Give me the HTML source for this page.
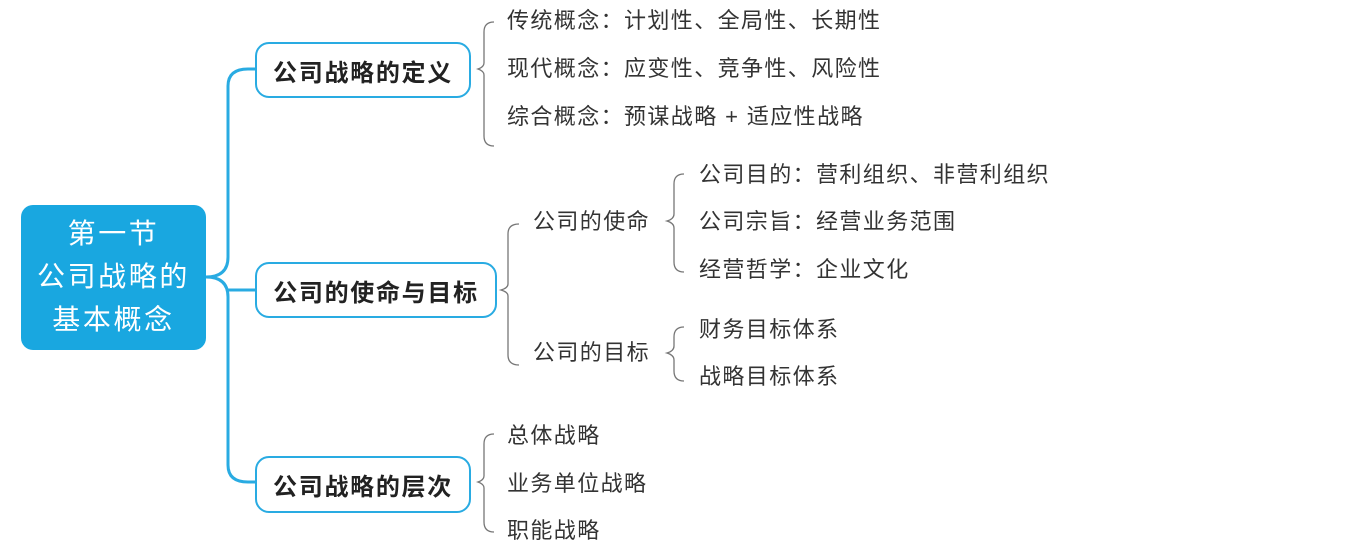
<!DOCTYPE html>
<html><head><meta charset="utf-8"><style>
body{margin:0;width:1359px;height:556px;background:#fff;position:relative;overflow:hidden;font-family:"Liberation Sans","Noto Sans CJK SC",sans-serif;}
.t{position:absolute;font-size:22px;color:#333;white-space:nowrap;line-height:24px;letter-spacing:1.4px;}
.b{position:absolute;border:2px solid #29abe2;border-radius:14px;background:#fff;font-weight:bold;font-size:24px;letter-spacing:1.7px;color:#222;display:flex;align-items:center;justify-content:center;box-sizing:border-box;}
.root{position:absolute;left:21px;top:205px;width:185px;height:145px;background:#19a7e0;border-radius:12px;color:#fff;font-size:28px;letter-spacing:2.6px;text-align:center;line-height:43px;box-sizing:border-box;padding-top:7px;}
</style></head><body>
<svg width="1359" height="556" style="position:absolute;left:0;top:0">
<g fill="none" stroke="#29abe2" stroke-width="3">
<path d="M206 277 Q228 277 228 257 L228 86 Q228 69 248 69 L256 69"/>
<path d="M206 277 Q228 277 228 297 L228 465 Q228 482 248 482 L256 482"/>
<path d="M228 290 L256 290"/>
</g>
<g fill="none" stroke="#777" stroke-width="1.3">
<path d="M494 22 Q484 22 484 32 L484 63 Q484 67 478 69 Q484 71 484 75 L484 136 Q484 146 494 146"/>
<path d="M519 224 Q508 224 508 234 L508 284 Q508 288 501 290 Q508 292 508 296 L508 355 Q508 365 519 365"/>
<path d="M684 174 Q674 174 674 184 L674 214 Q674 219 667 221 Q674 223 674 228 L674 262 Q674 272 684 272"/>
<path d="M684 327 Q674 327 674 337 L674 346 Q674 351 667 353 Q674 355 674 360 L674 371 Q674 381 684 381"/>
<path d="M494 434 Q484 434 484 444 L484 476 Q484 480 478 482 Q484 484 484 488 L484 522 Q484 532 494 532"/>
</g>
</svg>
<div class="root">第一节<br>公司战略的<br>基本概念</div>
<div class="b" style="left:255px;top:42px;width:216px;height:56px">公司战略的定义</div>
<div class="b" style="left:255px;top:262px;width:242px;height:56px">公司的使命与目标</div>
<div class="b" style="left:255px;top:456px;width:216px;height:57px">公司战略的层次</div>
<div class="t" style="left:507px;top:9px">传统概念：计划性、全局性、长期性</div>
<div class="t" style="left:507px;top:57px">现代概念：应变性、竞争性、风险性</div>
<div class="t" style="left:507px;top:105px">综合概念：预谋战略 + 适应性战略</div>
<div class="t" style="left:533px;top:210px">公司的使命</div>
<div class="t" style="left:533px;top:341px">公司的目标</div>
<div class="t" style="left:699px;top:163px">公司目的：营利组织、非营利组织</div>
<div class="t" style="left:699px;top:210px">公司宗旨：经营业务范围</div>
<div class="t" style="left:699px;top:258px">经营哲学：企业文化</div>
<div class="t" style="left:699px;top:318px">财务目标体系</div>
<div class="t" style="left:699px;top:365px">战略目标体系</div>
<div class="t" style="left:507px;top:424px">总体战略</div>
<div class="t" style="left:507px;top:472px">业务单位战略</div>
<div class="t" style="left:507px;top:519px">职能战略</div>
</body></html>
